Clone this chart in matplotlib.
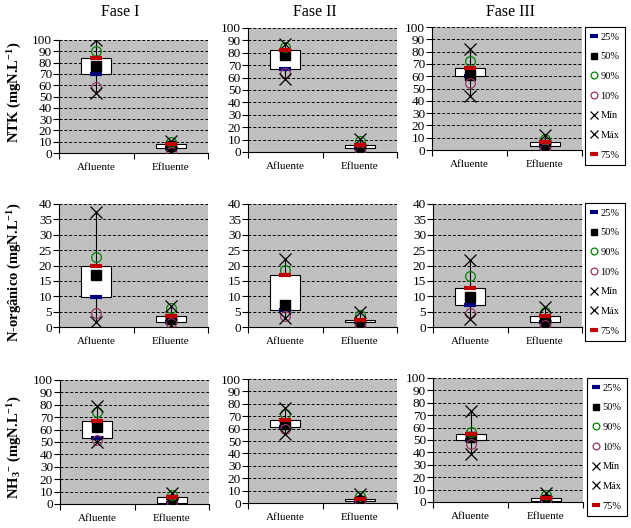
import matplotlib
matplotlib.use('Agg')
import matplotlib.pyplot as plt
from matplotlib.lines import Line2D

plt.rcParams['font.family'] = ['Liberation Serif', 'DejaVu Serif']
plt.rcParams['mathtext.fontset'] = 'custom'
plt.rcParams['mathtext.rm'] = 'Liberation Serif'
plt.rcParams['mathtext.bf'] = 'Liberation Serif:bold'
plt.rcParams['mathtext.it'] = 'Liberation Serif:italic'

categorias = ['Afluente', 'Efluente']
fases = ['Fase I', 'Fase II', 'Fase III']

# cada linha: [min, 10%, 25%, 50%, 75%, 90%, max]
ntk_afluente = [[53, 58, 70, 77, 84, 90, 100],
                [58.5, 64, 67, 78, 82, 85, 87],
                [43.5, 54.6, 60, 61, 67, 72, 82]]
ntk_efluente = [[0, 1, 4.7, 6, 8.3, 10, 11],
                [0, 1, 3.5, 3, 5.4, 9, 10.8],
                [1, 2, 3.2, 4, 6.7, 9, 12]]

norg_afluente = [[1.5, 4.5, 9.7, 16.8, 20, 22.9, 37.5],
                 [2.9, 3.5, 5.5, 7.2, 16.8, 18.6, 22],
                 [2.6, 4.6, 7, 9.8, 12.8, 16.6, 21.7]]
norg_efluente = [[0.5, 1.3, 1.5, 2.5, 3.7, 6.3, 6.9],
                 [0.3, 0.5, 1.5, 1.1, 2.4, 4, 4.8],
                 [0.3, 0.5, 1.6, 2, 3.5, 5, 6.5]]

nh3_afluente = [[50, 51.7, 53, 61.7, 66.8, 74, 79.4],
                [55.5, 59.8, 60.9, 63.8, 67, 71.6, 76.4],
                [39, 47, 50.3, 52.4, 54.6, 56.8, 73]]
nh3_efluente = [[0, 0.5, 0.8, 3, 5.6, 7, 8.8],
                [0, 0.5, 1.3, 2, 3.5, 6, 7.2],
                [0, 0.5, 1, 2, 3.2, 5.5, 7.3]]

parametros = [
    (ntk_afluente, ntk_efluente, 100, 10, r'NTK (mgN.L$^{\mathbf{-1}}$)'),
    (norg_afluente, norg_efluente, 40, 5, r'N-orgânico (mgN.L$^{\mathbf{-1}}$)'),
    (nh3_afluente, nh3_efluente, 100, 10, r'NH$_{\mathbf{3}}$$^{\mathbf{-}}$ (mgN.L$^{\mathbf{-1}}$)'),
]

W, H = 631, 528
# caixas dos eixos em pixels: (x0, x1, y_topo, y_base)
caixas = [
    [(59, 208, 40, 153), (248, 397, 28, 152), (432, 582, 27, 150)],
    [(59, 208, 204, 327), (248, 397, 204, 327), (433, 582, 204, 327)],
    [(60, 209, 380, 504), (248, 397, 379, 503), (433, 583, 378, 502)],
]
legendas_pos = [(585, 27), (585, 203), (587, 378)]
ylabel_pos = [(15, 92), (15, 272), (15, 447)]
titulo_pos = [(120, 12), (315, 12), (510, 12)]

estilos = [
    ('25%', 2, dict(marker='_', color='#000080', ms=8, mew=3)),
    ('50%', 3, dict(marker='s', color='black', ms=6.5, mfc='black')),
    ('90%', 5, dict(marker='o', color='#008000', ms=7, mfc='none', mew=0.9)),
    ('10%', 1, dict(marker='o', color='#993366', ms=7, mfc='none', mew=0.9)),
    ('Mín', 0, dict(marker='x', color='black', ms=8, mew=0.9)),
    ('Máx', 6, dict(marker='x', color='black', ms=8, mew=0.9)),
    ('75%', 4, dict(marker='_', color='#C00000', ms=8, mew=3)),
]

fig = plt.figure(figsize=(W / 100, H / 100), dpi=100)

for i, (afl, efl, ymax, passo, rotulo) in enumerate(parametros):
    for j in range(3):
        x0, x1, yt, yb = caixas[i][j]
        ax = fig.add_axes([x0 / W, 1 - yb / H, (x1 - x0) / W, (yb - yt) / H])
        ax.set_facecolor('#C0C0C0')
        dados = [afl[j], efl[j]]
        pos = [0.5, 1.5]
        for p, d in zip(pos, dados):
            ax.vlines(p, d[0], d[6], color='black', lw=0.8, zorder=2)
            ax.bar(p, d[4] - d[2], bottom=d[2], width=0.4, color='white',
                   edgecolor='black', lw=0.8, zorder=3)
        for nome, k, est in estilos:
            ax.plot(pos, [d[k] for d in dados], ls='none', zorder=4, **est)
        ax.set_xlim(0, 2)
        ax.set_ylim(0, ymax)
        ax.set_yticks(range(0, ymax + 1, passo))
        ax.yaxis.grid(True, color='black', ls=(0, (3, 2)), lw=0.7)
        ax.set_axisbelow(True)
        ax.set_xticks([0, 1, 2])
        ax.set_xticklabels([])
        ax.set_xticks(pos, minor=True)
        ax.set_xticklabels(categorias, minor=True, fontsize=8)
        ax.tick_params(axis='x', which='minor', length=0, pad=7)
        ax.tick_params(axis='x', which='major', length=4, direction='out')
        ax.tick_params(axis='y', labelsize=9.5, length=4, pad=1)
        for s in ['top', 'right']:
            ax.spines[s].set_visible(False)

    fig.text(ylabel_pos[i][0] / W, 1 - ylabel_pos[i][1] / H, rotulo,
             rotation=90, ha='center', va='center', fontsize=10.5,
             fontweight='bold')

    handles = [Line2D([], [], ls='none', **est) for _, _, est in estilos]
    leg = fig.legend(handles, [n for n, _, _ in estilos], loc='upper left',
                     bbox_to_anchor=(legendas_pos[i][0] / W, 1 - legendas_pos[i][1] / H),
                     borderaxespad=0, fontsize=7.5, handlelength=0.7,
                     handletextpad=0.3, labelspacing=1.0, borderpad=0.5,
                     markerscale=0.7, fancybox=False, framealpha=1,
                     edgecolor='black')
    leg.get_frame().set_linewidth(0.8)

for j in range(3):
    fig.text(titulo_pos[j][0] / W, 1 - titulo_pos[j][1] / H, fases[j],
             ha='center', va='center', fontsize=11.5)

fig.savefig('out.png', dpi=100)
